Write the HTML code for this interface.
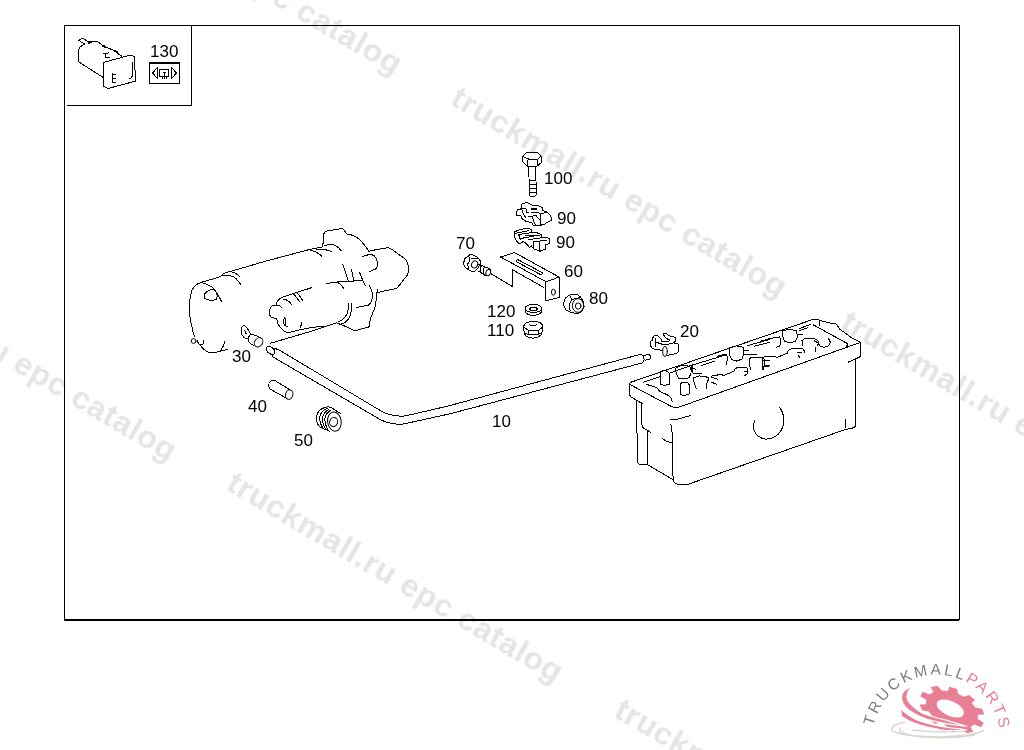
<!DOCTYPE html>
<html><head><meta charset="utf-8">
<style>
html,body{margin:0;padding:0;background:#fff;width:1024px;height:750px;overflow:hidden}
svg{position:absolute;left:0;top:0;display:block}
.wm{font-family:"Liberation Sans",sans-serif;font-weight:bold;font-size:32px;letter-spacing:0.65px;fill:#e5e5e5;filter:grayscale(1)}
.lb{font-family:"Liberation Sans",sans-serif;font-size:17px;fill:#000;filter:grayscale(1)}
</style></head>
<body>
<svg width="1024" height="750" viewBox="0 0 1024 750">
<!-- watermarks -->
<g class="wm">
<text transform="translate(63.8,-119.0) rotate(30.5)">truckmall.ru epc catalog</text>
<text transform="translate(448.8,104.0) rotate(30.5)">truckmall.ru epc catalog</text>
<text transform="translate(-161.5,267.5) rotate(30.5)">truckmall.ru epc catalog</text>
<text transform="translate(224.8,489.0) rotate(30.5)">truckmall.ru epc catalog</text>
<text transform="translate(838.8,328.0) rotate(30.5)">truckmall.ru epc catalog</text>
<text transform="translate(612.3,716.0) rotate(30.5)">truckmall.ru epc catalog</text>
</g>
<!-- frame -->
<g fill="#000">
<rect x="64" y="25" width="896" height="1"/>
<rect x="64" y="25" width="1" height="595"/>
<rect x="959" y="25" width="1" height="595"/>
<rect x="64" y="619" width="895" height="2"/>
<rect x="191" y="25" width="1" height="81"/>
<rect x="67" y="105" width="125" height="1"/>
</g>
<!-- drawings -->
<g fill="none" stroke="#000" stroke-width="1" stroke-linecap="round" stroke-linejoin="round" shape-rendering="crispEdges">
<!-- starter -->
<path d="M200.5,282.6 L220.4,276.7 Q223,273.5 225,272.8 Q227,272 229.8,271.6 L266,261.1 L309.4,249.5 L322.8,246.8"/>
<path d="M222.7,275.9 Q228,274.5 234,277 Q238,280 240.7,284.5"/>
<path d="M229.8,271.6 Q235,272 239.9,276.7"/>
<path d="M200.5,282.6 Q195,284.5 191.9,290.4 Q189.5,297 189.5,306 Q189.5,318 191.5,325 Q192.5,331 194.5,336.5"/>
<circle cx="193.6" cy="341" r="2.4" shape-rendering="auto"/>
<path d="M197.5,340.5 Q198,344 199.5,344.5 L203,344 L203,340"/>
<path d="M199.5,344.5 Q205,352 211,353 Q216,352.5 220,351.3 L228.4,349"/>
<path d="M200.5,282.6 Q206,283 213.3,288 Q218,294 221.5,301.3"/>
<path d="M224.9,341.3 Q223.5,347 220,351.3"/>
<path d="M204.4,294.3 Q207,291 209.4,290.4 L213.3,288.8 Q217,292 217.2,295.8 L216.5,299 Q213,300.5 211,300.5 Q207,300 204.8,298.6 Z"/>
<!-- flange -->
<path d="M322.8,246.8 L323.6,234 Q325,231.5 327.6,230.8 L342.8,228.4 L346.8,234 Q355,235 359.6,239.6 Q365,245 369.2,251.6"/>
<path d="M324.4,246 Q330,243.5 334,245 Q339,247 341.2,250.8"/>
<path d="M310,250 Q318,252 322,256.4"/>
<path d="M316.4,249.2 Q326,249 331.6,251.6"/>
<!-- nose -->
<path d="M370,250.8 L388.4,247.6 Q392,249 394.8,251.6 L406,259.6 Q408.5,263 408.4,268.4 Q408.4,272 407.6,274.8 Q404,279 401.2,282.8 Q399,286 396.4,288.4 L378,292.4"/>
<path d="M362.8,256.4 L370.8,254 Q375,255.5 376.4,258.8 Q378,262 377.2,266.8 Q376,269.5 373.2,270 L369.2,271.6"/>
<path d="M342.8,264.4 Q345,271 348.4,281.2"/>
<path d="M351.6,270 Q353,276 354,282"/>
<path d="M359.6,272.4 Q362,279 365.2,285.2"/>
<path d="M326,283.6 L337.2,282 L362.8,280.4"/>
<path d="M337.2,282 Q341,284 343.6,288.4"/>
<path d="M369.2,285.2 Q372,290 372.4,294 Q372.5,298 371.6,300.4 Q370.5,304 368.4,305.2 L356.4,307.6"/>
<path d="M377.2,289.2 Q377,298 374.8,308.4 Q372,314 370.8,318 Q369.5,322 369.2,326.8 L354.8,330.8 L348.4,327.6 L336.4,322.8"/>
<path d="M348.4,303.6 Q349,309 347,314 Q344,320 338,322"/>
<path d="M351.6,303 Q352,312 349.2,318 Q346,323 341,324"/>
<!-- solenoid -->
<path d="M282.2,297.2 L311.8,287.6"/>
<path d="M282.2,297.2 Q277,300 275.8,305.2 Q272,305 270.2,308 Q269,312 269.6,314.8 Q271,318 274,318 L276.6,318 Q277.5,322 278.2,324.4 Q281,329 283.8,330.8 Q286,332.5 289,332.4 L306.2,328.4 L323.8,326"/>
<path d="M276.5,305.5 Q280,305 281.5,307.8"/>
<path d="M282.5,299 Q288,299 292,305"/>
<path d="M293.4,294 Q297,297 299.6,302"/>
<path d="M297.4,293 Q300,296 302.6,300.4"/>
<path d="M284.2,317.6 Q283,321 284.2,325 L287.8,327"/>
<path d="M286,318 L285.2,325"/>
<path d="M301.6,322.8 L300.5,328"/>
<!-- leader from cable to starter -->
<path d="M270.4,343.3 L310,331.6 L336.4,322.8"/>
<!-- lug 30 -->
<path d="M241.2,329 Q241.5,326.3 243.7,325.5 Q245.5,325.6 246.5,327.3 L250.7,333.8 Q249,337 247.8,338.3 L245.6,338.3 Q243.2,337.3 242.2,335.2 Q240.7,332 241.2,329 Z"/>
<path d="M244.3,330.3 Q246.5,331.5 246,334.2"/>
<path d="M250.7,333.8 L258.1,336.4 L260,337.6"/>
<path d="M248.2,338 Q248,341 248.7,342 Q250.5,344.5 253.3,345.2"/>
<ellipse shape-rendering="geometricPrecision" cx="258.6" cy="342.3" rx="3.9" ry="4.9" transform="rotate(35 258.6 342.3)"/>
<!-- cable 10 -->
<path d="M266.7,347.2 Q268.5,345.8 270.5,346.8 L273.5,348.6 Q275.5,350.5 274.8,353 Q273.8,355.3 271.6,354.6 L268,352.4 Q265.8,350.5 266.7,347.2 Z"/>
<path d="M273.3,348.6 Q276,348.6 278.6,349.6 L382.2,411.7 Q390,415.6 402.5,416.4 Q412,414.6 450,405.5 L641,354.2"/>
<path d="M272.2,355.3 Q272.6,357.6 274.6,357.9 L377.5,418 Q385,422.5 391.6,423.4 Q397,424.5 402.5,424.2 L450,413.8 L642,363"/>
<path d="M641,354.2 Q643.6,356 644.1,359.2 Q644,362 642,363"/>
<path d="M643.5,355.6 L648.8,354.4 Q651,355.5 650.8,357.3 Q650.6,359 649.6,359.3 L645,360.2"/>
<!-- pin 40 -->
<path d="M276,381.2 Q274.5,380 273.6,380 Q271,380.2 270.4,381.2 Q268.5,383 268.8,385.6 Q269,388 269.6,388.8 L286,398"/>
<path d="M276,381.2 L289.6,389.6"/>
<ellipse shape-rendering="geometricPrecision" cx="289.2" cy="394.6" rx="3.6" ry="4.8" transform="rotate(15 289.2 394.6)"/>
<!-- grommet 50 -->
<path d="M326.4,407.2 Q319,408.5 316.6,415.5 Q315.8,423 320,427.2 L329.6,431.2"/>
<path d="M327.5,408.5 Q321,410.5 319.6,417 Q319.5,424 323.5,428.8"/>
<path d="M329,409.2 Q323.5,412 322.4,418.4 Q322.6,425 326.3,429.8"/>
<path d="M331,410 Q326,413 324.8,418.4 Q325,425.5 328.5,430.8"/>
<path d="M326.4,407.2 Q329,406.5 331,407.5 L340.8,413.6"/>
<ellipse cx="334.4" cy="421.6" rx="6.8" ry="9.6" transform="rotate(-8 334.4 421.6)"/>
<ellipse shape-rendering="geometricPrecision" cx="333.6" cy="422" rx="4" ry="4.6" transform="rotate(20 333.6 422)"/>
<!-- clamp 20 -->
<path d="M662.2,341.6 L661.6,340.8 Q661.2,339 660.9,338.7 L658.4,336.1 Q657,335 656.2,335.2 Q654,335.6 653.2,337 Q652.3,338.5 652.2,340.6 Q650.5,340.8 650.3,342 Q650.2,344.5 650.7,345.9 Q651.8,348.2 653.2,348.9 L656.2,349.3 L660.9,350.2 L662.4,350.4"/>
<path d="M655.2,338.2 L655.4,346.8"/>
<path d="M655.6,342.1 L662.2,344.2 L667.3,344.6 L673.3,342.9 L676.7,343.4 Q678.3,344 678.4,345.1 L678.6,350.2 Q678.3,352 677.6,352.7 L673.7,354.2 L667.7,355.3"/>
<path d="M663.1,333.5 L666,333.3 L669,335.9 L673.3,336.5 Q675.2,337 675.4,338.2 L675.4,341.6 L673.3,342.5 M663.1,333.5 Q662.8,334 663.5,334.8 L666.5,338.7 L669,339.5 Q669.8,340.2 669.2,340.8 L666.9,341.6 L661.8,341.2"/>
<ellipse shape-rendering="geometricPrecision" cx="665" cy="351.4" rx="2.3" ry="5"/>
<!-- battery -->
<path d="M630.4,382.4 L813,319.4 Q817,319 820,320.3 L828.8,322.9 L835.9,323.8 Q838,326 839.4,329 L844.7,332.6 L851.7,337.8 L858.7,341.4 Q860.2,342 860.4,343 L861,356.3 L854.5,359.5 L848.1,362.2"/>
<path d="M630.4,384.8 L672,406.8 Q676,407.8 680,406.8 L859.9,342.6"/>
<path d="M813,324.7 L848.2,344 L846,347"/>
<path d="M630,382.8 L629.6,394.8 Q630.5,397 632,397.6 L642.4,403.6"/>
<path d="M643.2,382.4 L660,376.8"/>
<path d="M670.5,372.8 L692.3,365"/>
<path d="M646.4,384.4 Q652,386 656,387.2 Q658,389 660,391.6 Q665,393.5 668.8,395.6 Q671.5,398 672.4,401.6"/>
<path d="M636.8,400.4 L637.2,462.4 Q639,464.5 641.8,464.9 L648,464.9"/>
<path d="M641.8,402.9 L642,425.4 Q642.8,428 644.3,428.6 L650.6,432.3"/>
<path d="M647.4,431.7 L647.8,464.9 L672.5,479.3 Q674,483.5 679.4,485 L688,484.3 L844,430 L854.3,427.6 L855,426.5 L855,360"/>
<path d="M670,424.2 Q671.8,425 671.9,427 L673.1,479.3"/>
<path d="M670.6,419.2 Q676,420 680,418.5 L690.4,415.6"/>
<path d="M661.8,438 Q666,442 671.9,442.4"/>
<path d="M845.3,419.2 L845.3,427.6"/>
<!-- battery posts/caps -->
<path d="M660.2,374 Q660.5,371 664.5,370.6 Q668.5,371 669.5,374 L669.5,384 Q665,386 660.6,384.5 Z"/>
<path d="M680.3,385 Q681,382.2 684.8,382.2 Q688.7,382.5 689.2,385 L689.2,394 Q685,396 680.3,394.6 Z"/>
<path d="M675.5,369 Q677,366 683,365.2 Q689.5,365.5 691.5,368.5 Q691.5,374 689,377.8 Q683,380 678.5,378 Q675.5,373 675.5,369 Z"/>
<path d="M692.3,365 L715.8,358 L726.7,354.5 M701.7,365.4 L715,361.1 M717.3,356.4 Q722,354.5 725.2,354.8 Q727.8,356 727.5,358 Q727,361 726.7,364.2"/>
<path d="M690,369.7 L692.3,365.8 M692.5,366 Q691.5,370 693.1,373.1 L701.7,373.2 M692.5,368 L696,369.5"/>
<path d="M729,347.8 L736.9,345.9 L743.9,347.4 Q743.5,352 743.1,355.6 L742.3,358.8 L736.9,361.1 L732.2,359.9 L729.8,355.6 Q729,351 729,347.8 Z"/>
<path d="M744,350 L749,350.2 M743.9,354.1 L756.4,354.5"/>
<path d="M747.8,345.5 L770,339.5 M754,346.3 L770,342.3 M760,341.4 L769.8,338.5"/>
<path d="M749.4,358.8 Q751,357.4 752.5,357.2 L761.9,358 Q764.5,359 765,360.3 Q764.2,365 763.4,369.7 M749.4,358.8 Q749.5,365 750.5,369.7 M765,360.7 L770,360.7 M765,365 L770,365.3"/>
<path d="M711.9,375.9 L721.3,374.4 L723.6,375.5 L733.8,371.3 Q735,369 736.1,368.1 L740.8,367 L747,367.7 Q748.2,370 747.8,372.8 Q746.5,375 744.7,375.5 M747.8,371 L744,371"/>
<path d="M693.9,377.5 L699.4,375.9 L707.2,377.1 Q709,378 708.8,379 Q707.5,381 706.8,383.8 L706.8,388.4 M693.9,377.5 Q693,378 693.5,379 Q694,384 696.3,388.4 M711.5,377 L717.3,379.2 M711,382 L716.6,384.3"/>
<path d="M760,358 L765.9,356.6 L774.6,356.1 L776.6,357.6 L787.3,353.2 Q788,350.5 789.3,349.3 L792.2,348.8 L802,348.3 Q803.5,349.5 803.9,350.2 L804.9,352.2"/>
<path d="M762,358 Q762.8,364 762.5,370 M763,360 L768,361 M763,366 L769,366"/>
<path d="M797,352 L802,352 M798,355 Q799,357 800,357.5"/>
<path d="M769.8,338.5 L779.5,337 Q781,339 781,342.4 Q780.5,345 779.5,346.3 L776.1,347.3"/>
<path d="M782.5,330.7 L789.3,329.2 L796.1,330.7 Q797.5,334 797.1,337.5 L795.2,341.4 L789.3,342.9 L784.9,341.4 Q783,339 783,336.6 Z"/>
<path d="M797.5,335 L803,334 M799,328.7 L810.8,324.3 M799,330.5 L807.9,327.8"/>
<path d="M802,340.5 Q804,338.5 806.9,338.5 L814.7,339 Q817.5,339.8 818.6,341.4 Q818.5,343.5 817.6,345.3 M802,340.5 Q802.2,343.5 803,346.3 M814.5,341 L818.6,343"/>
<path d="M818.6,343.4 Q819,345.5 820.5,346.3 L824.5,347.3 L828.4,345.8 Q830,344 830.3,342.4 Q829.8,340 828.4,338.5"/>
<path d="M815.7,347.3 L815.7,351.2"/>
<path d="M819.6,321 L819.6,325.8"/>
<path d="M754.5,421 Q753,425 753.6,429 Q756,437.5 765.5,439.2 Q776,439 781.5,430 Q784.2,425 783.9,418.5 Q783.2,412 779.8,407.8"/>
<!-- inset switch -->
<path d="M78.6,40.2 L82.8,38.4 L89.2,42.4 L94.8,41.4 L97.6,41.6 L103.6,46 L115.6,51.2 L117.2,53.2 L122,56.4"/>
<path d="M78.6,40.2 L84.4,44 L80,47.2 L78.8,49.2 L78.8,62 L102.8,77.2"/>
<path d="M103.6,62.4 L130,55.2 Q133,55.5 134.8,57.2 L135.2,81.2 L108.4,88.4 Q105,87.8 103.6,86 Z"/>
<path d="M112.4,73.2 L112.4,82.8 M112.4,74.4 L115.6,74.4 M112.4,78.4 L115.6,78.4 M112.4,82.4 L115.6,82.4"/>
<path d="M132,62 L132,76.5 Q131.5,78.5 129.2,78.4"/>
<path d="M103.6,53.5 L108.5,53 M106,53.2 L105.5,57.3 L109.2,57.6"/>
<path d="M89,42.8 L91,41.8 M103,45.8 L105.5,47 M114.5,51 L117,51.8" stroke-width="2"/>
<!-- icon box 130 -->
<rect x="149.5" y="62.5" width="30" height="21" stroke-width="1"/>
<path d="M149.5,62.5 L179.5,62.5" stroke-width="2"/>
<path d="M157.5,67.5 L152.5,73 L157.5,78.5 Z M171.5,67.5 L176.5,73 L171.5,78.5 Z"/>
<path d="M159.5,69.5 L168.5,69.5 L168.5,76.5 L159.5,76.5 Z M162.5,72 L165.5,72 M164,72 L164,79 M162,76.5 L162,79 M166,76.5 L166,79"/>
<!-- bolt 100 -->
<path d="M527.1,152.3 L537.5,152.3 L541.2,156.1 L537.5,159.4 L529.1,159.3 L522.4,156.4 Z"/>
<path d="M522.4,156.4 L522.4,161.5 L527.4,166.4 L536.8,166.4 L541.5,162.4 L541.2,156.1"/>
<path d="M528,159.6 L527.9,166.2 M537.4,159.6 L537.1,165.8"/>
<path d="M528.4,166.4 L528.4,176.7 M529.4,179.4 L529.4,195 Q530,196.6 531,196.6 L534.4,196.6 Q536.3,196 536.3,194.5 L536.3,182.2 M535.6,166.4 L535.6,180.3"/>
<path d="M536.9,182.5 L536.9,194"/>
<path d="M529.4,180.3 L535.6,180.3 M529.4,184.6 L536.3,184.6 M529.4,188.7 L536.3,188.7 M529.4,192.6 L536.3,192.6"/>
<!-- clamp 90 upper -->
<path d="M521.2,204.3 L526.6,202.3 L531.5,205 L537.8,205.3 L542.2,207.5 L542.7,210.6 L547.1,212.1 L550.5,215.5 L552,219.9 L548.1,221.9 L544.2,224.3 L540.3,225.3 L533.4,225.3 L531.5,222.4 L526.1,221.4 L522.2,219 L521.2,216 L516.8,215.5 L516.3,212.1 L517.8,209.4 L521.2,208.9 Z"/>
<path d="M521.5,208.7 L526,208.7 L526.5,212.5 L528.6,213 M531.5,212.4 L537.8,212.4 L540.3,214 L540.3,224.8 M540.3,214 L547.1,212.1 M528.6,217 L535.9,215.5 L539.8,220 M532.5,218 L535.4,225.3 M521.8,209.2 Q523,214 526,218"/>
<path d="M531.5,208.9 L536.6,208.9" stroke-width="2"/>
<!-- clamp 90 lower -->
<path d="M514.3,231.8 L518.3,230.3 L525.1,228.4 L528.5,228.2 L531.4,229.9 L531.9,232.8 L536.3,232.5 L541.2,234.7 L542.2,237.7 L546.6,237.2 L549.5,238.6 L549.5,243.5 L545.6,245 L545.1,249.4 L539.7,251.3 L536.8,249.9 L533.4,248.9 L531.4,246 L529.5,247.4 L527.5,245 L524.6,242.1 L523.1,241.6 L519.7,244 L516.8,241.1 L514.3,236.7 Z"/>
<path d="M515.8,233.3 L528.5,230.8 M518.7,234.5 L531.9,232.5 M518.7,234.7 L520.2,239.1 L523.5,238 L541.2,234.7 M528.5,239.6 L542.2,237.7 M533.4,242 L546.6,240 M539.3,242.5 L539.3,250.5 M533.4,242 L533.4,248.9 M525,236 L536,235.5"/>
<!-- bolt 70 -->
<path d="M463.5,263.5 L464.7,258.8 L468.8,255.3 L471.1,254.4 L474.1,255.3 L477.6,257.6 L480.5,261.1 L480.8,263.5 L477,269.3 L474.6,271.1 L471.7,271.4 L468.8,269.9 L464.7,267 Z"/>
<path d="M468.8,255.9 L469.7,261.1 L467.6,264.1 L468.8,269.3 M471.1,258.2 L477.6,258.2"/>
<ellipse shape-rendering="geometricPrecision" cx="474.6" cy="264.4" rx="3" ry="3.6" transform="rotate(25 474.6 264.4)"/>
<path d="M478.2,264.1 L490.8,269.3 M478.7,271.1 L485.8,275.8"/>
<path d="M481.5,265.5 Q479.5,268.5 481,272.5 M484.5,266.8 Q482.5,270 484,274"/>
<ellipse shape-rendering="geometricPrecision" cx="488.2" cy="272.6" rx="2.3" ry="3.2" transform="rotate(20 488.2 272.6)"/>
<path d="M491,273.7 L512.1,286.3 L512.4,269.9"/>
<!-- bracket 60 -->
<path d="M500.6,257 L514.6,252.6 L559,277 L546.2,281.8 L500.6,257"/>
<path d="M512.6,269.8 L543.8,287.4"/>
<path d="M545.4,282.2 L545.4,301 L559.8,297.4 L559.4,277.4"/>
<ellipse shape-rendering="geometricPrecision" cx="553.4" cy="292.2" rx="2" ry="3"/>
<path d="M518.2,259.8 L542.2,272.6 Q543.5,274 540.6,274.6 L516.6,261.8 Q515.5,260 518.2,259.8 Z"/>
<!-- washer 120 -->
<ellipse cx="533.4" cy="308.4" rx="8.4" ry="4"/>
<path d="M531,307.5 L536,307.5 L537.5,309 L536,310.5 L531,310.5 L529.5,309 Z"/>
<path d="M525,310.5 Q525.5,315 533.4,315.4 Q541.5,315 541.9,310.5"/>
<!-- nut 110 -->
<path d="M523.7,326.2 Q524.5,323.5 526,323 Q529,321.5 533.4,321.5 Q538,321.5 540.7,323 Q542.5,324.5 542.7,326.2 L542.7,330.4 L540.7,335.4 Q537,338 533.4,338.1 Q528,338 525.3,335.4 L523.7,330.4 Z"/>
<path d="M523.7,326.9 L528.4,330.4 L538.4,330.4 L542.7,326.9 M528.4,330.4 L528.6,334.5 M538.4,330.4 L538.2,334.5 M524.5,333.5 Q533,336 541.5,333.5 M529.1,324.4 Q533,327.2 536.9,324.4"/>
<!-- nut 80 -->
<path d="M563.2,303.7 L565.5,297.9 L570.1,294.8 L577.9,294.8 L580.2,296.8 L583.7,301.8 L584.1,307.2 L581.7,311.8 L577.1,313.8 L570.1,312.2 L565.5,309.5 Z"/>
<ellipse shape-rendering="geometricPrecision" cx="578" cy="305.5" rx="5.6" ry="6.9"/>
<ellipse shape-rendering="geometricPrecision" cx="578.2" cy="306" rx="2.8" ry="3.1"/>
<path d="M570.1,296.4 L571.7,299.5 L569.4,304.1 L570.1,311.1 M571.7,299.5 L580,297.5"/>
</g>
<!-- logo -->
<g>
<g fill="none" stroke="#d8d9d3" stroke-width="1.6">
<path d="M905,722 Q888,726 893,731 Q905,737 940,737 Q975,736 984,730"/>
<path d="M900,728 Q897,733 915,736 Q945,740 975,735"/>
<path d="M912,730 Q935,733 970,731"/>
</g>
<path transform="translate(952,709.5) rotate(24) scale(34.5,21)" fill="#e87f95" d="M0.796,-0.084 L0.999,-0.035 L0.978,0.208 L0.769,0.221 L0.693,0.400 L0.829,0.559 L0.669,0.743 L0.493,0.630 L0.325,0.731 L0.342,0.940 L0.105,0.995 L0.028,0.800 L-0.166,0.783 L-0.276,0.961 L-0.500,0.866 L-0.447,0.663 L-0.595,0.535 L-0.788,0.616 L-0.914,0.407 L-0.752,0.274 L-0.796,0.084 L-0.999,0.035 L-0.978,-0.208 L-0.769,-0.221 L-0.693,-0.400 L-0.829,-0.559 L-0.669,-0.743 L-0.493,-0.630 L-0.325,-0.731 L-0.342,-0.940 L-0.105,-0.995 L-0.028,-0.800 L0.166,-0.783 L0.276,-0.961 L0.500,-0.866 L0.447,-0.663 L0.595,-0.535 L0.788,-0.616 L0.914,-0.407 L0.752,-0.274 Z"/>
<ellipse cx="950.3" cy="708.5" rx="14.5" ry="7.3" transform="rotate(24 950.3 708.5)" fill="#fff"/>
<path fill="#e87f95" stroke="#fff" stroke-width="1.2" d="M919.6,685.1 Q908,686.5 903,692 Q900.5,697 901.9,700 Q903,706 909.9,711.1 Q918,716.5 927.2,719.4 Q937.6,722.3 946,723.6 Q956,725 967,726.5 Q956,723 946,720.1 Q932,716.7 922.4,713.2 Q913.3,707.7 908.5,701.4 Q906.5,697 907.1,695.9 Q907.5,690 912.6,687.5 Q915.5,686 919.6,685.1 Z"/>
<path fill="#e87f95" stroke="#fff" stroke-width="1.2" d="M901,708.5 Q903,711 905,712.5 Q909,715.5 913.3,718.1 Q918,720.5 923.7,722.2 Q929,724 934.1,725 Q940,726.3 946,727.1 Q956,728.5 967,730 Q956,731 946,730.5 Q940,730 937.6,729.2 Q932,728.2 927.2,727.1 Q920,725.5 915.4,723.6 Q910,721.5 906.4,719.4 Q902.5,717.5 901.5,716 Q900.5,712 901,708.5 Z"/>
<defs><path id="arc" d="M872.4,738.6 A64,64 0 0 1 1000.4,738.6"/></defs>
<text opacity="0.995" font-family="Liberation Sans, sans-serif" font-size="15.5" letter-spacing="2.6" text-anchor="middle"><textPath href="#arc" startOffset="51.2%"><tspan fill="#7d7d7d">TRUCKMALL</tspan><tspan fill="#e87f95">PARTS</tspan></textPath></text>
</g>
<!-- labels -->
<g class="lb">
<text x="150" y="57">130</text>
<text x="544" y="184">100</text>
<text x="557" y="224">90</text>
<text x="556" y="248">90</text>
<text x="456" y="249">70</text>
<text x="564" y="277">60</text>
<text x="589" y="304">80</text>
<text x="487" y="317">120</text>
<text x="487" y="336">110</text>
<text x="680" y="337">20</text>
<text x="232" y="362">30</text>
<text x="248" y="412">40</text>
<text x="294" y="446">50</text>
<text x="492" y="427">10</text>
</g>
</svg>
</body></html>
